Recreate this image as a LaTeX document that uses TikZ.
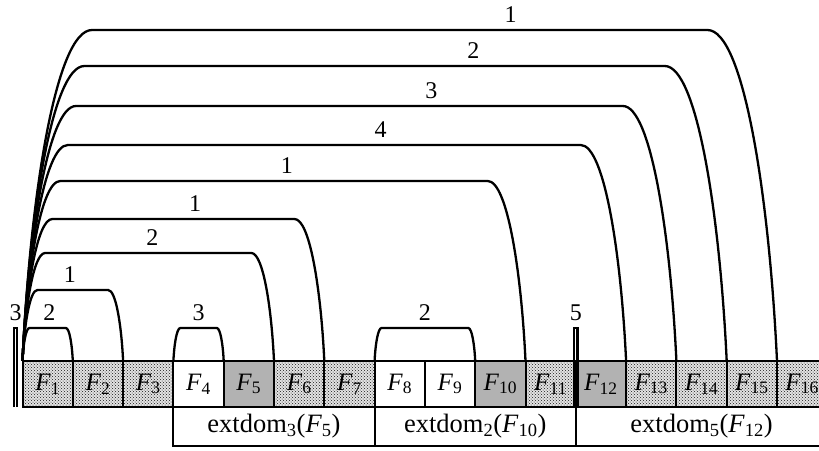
\documentclass[tikz,border=0pt]{standalone}
\usepackage{fontspec}
\setmainfont{Liberation Serif}
\usetikzlibrary{calc,positioning,patterns}

\tikzset{
  cell/.style={draw, line width=2pt, minimum width=50.3pt, minimum height=46pt, inner sep=0pt, outer sep=0pt, font=\fontsize{25}{29}\selectfont},
  dotcell/.style={cell, preaction={fill=gray!22}, pattern=crosshatch dots, pattern color=black!90},
  whitecell/.style={cell, fill=white},
  graycell/.style={cell, fill=gray!60},
  dombox/.style={draw, line width=2pt, minimum height=39pt, inner sep=0pt, outer sep=0pt, anchor=north west, font=\fontsize{26.5}{30}\selectfont},
  arcline/.style={line width=2.3pt},
  arclabel/.style={above, inner sep=6pt}
}

% arc over the cells: from, to, height, label position, label
\newcommand{\domarc}[5]{%
  \draw[arcline] (#1) .. controls ($(#1)+(0.023*#3,0.49*#3)$) and ($(#1)+(0.1*#3,#3)$) .. ($(#1)+(0.21*#3,#3)$)
    -- node[arclabel,pos=#4] {#5} ($(#2)+(-0.21*#3,#3)$)
    .. controls ($(#2)+(-0.1*#3,#3)$) and ($(#2)+(-0.023*#3,0.49*#3)$) .. (#2);}

\begin{document}
\begin{tikzpicture}[x=1pt, y=1pt, every node/.style={font=\fontsize{24}{28}\selectfont}]
  \useasboundingbox (0,0) rectangle (819,450);
  \clip (0,0) rectangle (819,450);

  % row of cells
  \node[dotcell] (F1) at (47.65,66) {\textit{F}\textsubscript{1}};
  \node[dotcell, right=0pt of F1] (F2) {\textit{F}\textsubscript{2}};
  \node[dotcell, right=0pt of F2] (F3) {\textit{F}\textsubscript{3}};
  \node[whitecell, right=0pt of F3] (F4) {\textit{F}\textsubscript{4}};
  \node[graycell, right=0pt of F4] (F5) {\textit{F}\textsubscript{5}};
  \node[dotcell, right=0pt of F5] (F6) {\textit{F}\textsubscript{6}};
  \node[dotcell, right=0pt of F6] (F7) {\textit{F}\textsubscript{7}};
  \node[whitecell, right=0pt of F7] (F8) {\textit{F}\textsubscript{8}};
  \node[whitecell, right=0pt of F8] (F9) {\textit{F}\textsubscript{9}};
  \node[graycell, right=0pt of F9] (F10) {\textit{F}\textsubscript{10}};
  \node[dotcell, right=0pt of F10] (F11) {\textit{F}\textsubscript{11}};
  \node[graycell, right=0pt of F11] (F12) {\textit{F}\textsubscript{12}};
  \node[dotcell, right=0pt of F12] (F13) {\textit{F}\textsubscript{13}};
  \node[dotcell, right=0pt of F13] (F14) {\textit{F}\textsubscript{14}};
  \node[dotcell, right=0pt of F14] (F15) {\textit{F}\textsubscript{15}};
  \node[dotcell, right=0pt of F15] (F16) {\textit{F}\textsubscript{16}};

  % extended domains
  \node[dombox, minimum width=201.2pt] (dom5) at (F4.south west) {extdom\textsubscript{3}(\textit{F}\textsubscript{5})};
  \node[dombox, minimum width=201.2pt] (dom10) at (F8.south west) {extdom\textsubscript{2}(\textit{F}\textsubscript{10})};
  \node[dombox, minimum width=251.5pt] (dom12) at (F12.south west) {extdom\textsubscript{5}(\textit{F}\textsubscript{12})};

  % arcs from F1
  \domarc{F1.north west}{F15.north east}{331}{0.68}{1}
  \domarc{F1.north west}{F14.north east}{295}{0.67}{2}
  \domarc{F1.north west}{F13.north east}{255}{0.65}{3}
  \domarc{F1.north west}{F12.north east}{216}{0.61}{4}
  \domarc{F1.north west}{F10.north east}{180}{0.53}{1}
  \domarc{F1.north west}{F6.north east}{142}{0.59}{1}
  \domarc{F1.north west}{F5.north east}{108}{0.52}{2}
  \domarc{F1.north west}{F2.north east}{71}{0.46}{1}
  \domarc{F1.north west}{F1.north east}{33}{0.55}{2}

  % short arcs
  \domarc{F4.north west}{F4.north east}{33}{0.5}{3}
  \domarc{F8.north west}{F9.north east}{33}{0.5}{2}

  % empty arcs
  \coordinate (nil3) at ($(F1.south west)+(-7,0)$);
  \coordinate (nil5) at (F11.south east);
  \draw[arcline] ($(nil3)+(-1.75,0)$) -- ++(0,79) -- node[arclabel] {3} ++(3.5,0) -- ++(0,-79);
  \draw[arcline] ($(nil5)+(-1.75,0)$) -- ++(0,79) -- node[arclabel] {5} ++(3.5,0) -- ++(0,-79);
\end{tikzpicture}
\end{document}
